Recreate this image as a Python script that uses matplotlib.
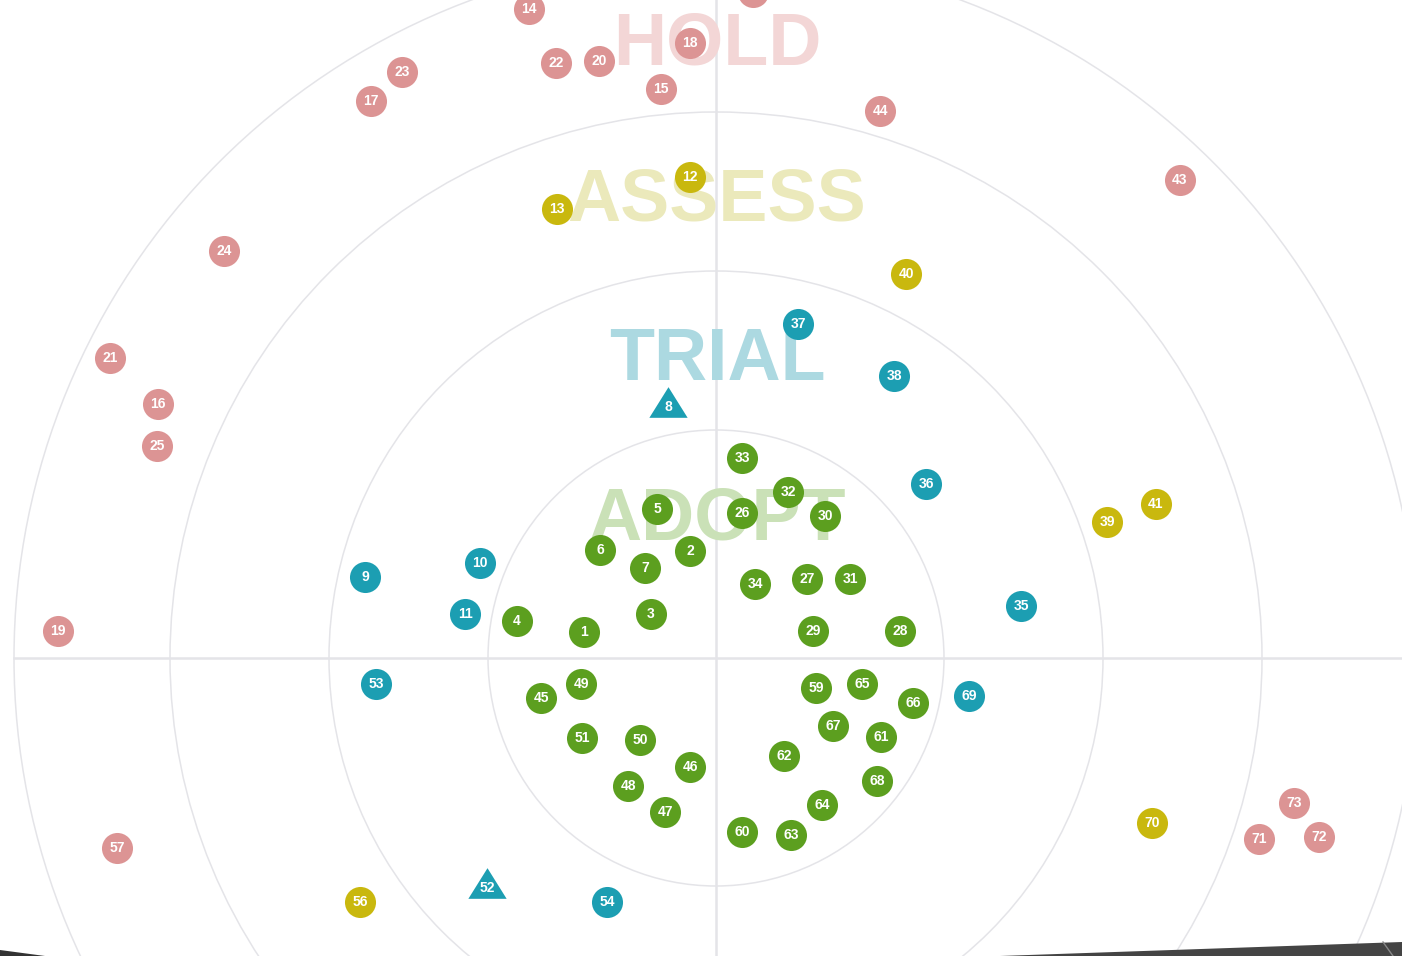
import matplotlib
matplotlib.use("Agg")
import matplotlib.pyplot as plt
from matplotlib.patches import Circle, Polygon

plt.rcParams['font.family'] = ['Liberation Sans', 'DejaVu Sans']

# Ring radii (radar units) and ring names
ring_names = ["ADOPT", "TRIAL", "ASSESS", "HOLD"]
ring_radii = [228, 387, 546, 702]

# Blips: label, x, y (radar units, centre = 0,0, y up)
hold_labels = ["14", "18", "22", "20", "15", "42", "23", "17", "44", "43", "24",
               "21", "16", "25", "19", "57", "73", "71", "72"]
hold_x = [-187, -26, -160, -117, -55, 37, -314, -345, 164, 464, -492,
          -606, -558, -559, -658, -599, 578, 543, 603]
hold_y = [649, 615, 595, 597, 569, 666, 586, 557, 547, 478, 407,
          300, 254, 212, 27, -190, -145, -181, -179]

assess_labels = ["12", "13", "40", "39", "41", "56", "70"]
assess_x = [-26, -159, 190, 391, 440, -356, 436]
assess_y = [481, 449, 384, 136, 154, -244, -165]

trial_labels = ["37", "38", "36", "9", "10", "11", "35", "53", "69", "54"]
trial_x = [82, 178, 210, -351, -236, -251, 305, -340, 253, -109]
trial_y = [334, 282, 174, 81, 95, 44, 52, -26, -38, -244]

trial_new_labels = ["8", "52"]
trial_new_x = [-48, -229]
trial_new_y = [256, -225]

adopt_labels = ["33", "32", "5", "26", "30", "6", "2", "7", "34", "27", "31",
                "3", "4", "1", "29", "28", "45", "49", "51", "50", "46", "48",
                "47", "59", "65", "66", "67", "61", "62", "68", "64", "60", "63"]
adopt_x = [26, 72, -59, 26, 109, -116, -26, -71, 39, 91, 134,
           -65, -199, -132, 97, 184, -175, -135, -134, -76, -26, -88,
           -51, 100, 146, 197, 117, 165, 68, 161, 106, 26, 75]
adopt_y = [200, 166, 149, 145, 142, 108, 107, 90, 74, 79, 79,
           44, 37, 26, 27, 27, -40, -26, -80, -82, -109, -128,
           -154, -30, -26, -45, -68, -79, -98, -123, -147, -174, -177]

ring_colors = {"HOLD": "#dc9494", "ASSESS": "#c9b80e",
               "TRIAL": "#1c9eb2", "ADOPT": "#5c9f1f"}
title_colors = {"HOLD": "#f3d6d6", "ASSESS": "#ebe9bb",
                "TRIAL": "#acd9e1", "ADOPT": "#cae1b7"}
title_pos = {"HOLD": (1, 594), "ASSESS": (1, 437), "TRIAL": (1, 278), "ADOPT": (1, 119)}

W, H = 1402, 956
fig = plt.figure(figsize=(W / 100, H / 100), dpi=100)
ax = fig.add_axes([0, 0, 1, 1])
ax.set_xlim(-716, W - 716)
ax.set_ylim(658 - H, 658)
ax.set_aspect('equal')
ax.axis('off')

grid = "#e4e4e8"
for r in ring_radii:
    ax.add_patch(Circle((0, 0), r, fill=False, ec=grid, lw=1.1, zorder=1))
ax.plot([-ring_radii[-1], ring_radii[-1]], [0, 0], color=grid, lw=1.8, zorder=1)
ax.plot([0, 0], [-ring_radii[-1], ring_radii[-1]], color=grid, lw=1.8, zorder=1)

for name in ring_names:
    x, y = title_pos[name]
    ax.text(x, y, name, fontsize=53, fontweight='bold', color=title_colors[name],
            ha='center', va='baseline', zorder=2)

def circles(labels, xs, ys, color):
    ax.scatter(xs, ys, s=500, c=color, marker='o', linewidths=0, zorder=3)
    for lab, x, y in zip(labels, xs, ys):
        ax.text(x, y, lab, fontsize=10, fontweight='bold', color='white',
                ha='center', va='center', zorder=4)

circles(hold_labels, hold_x, hold_y, ring_colors["HOLD"])
circles(assess_labels, assess_x, assess_y, ring_colors["ASSESS"])
circles(trial_labels, trial_x, trial_y, ring_colors["TRIAL"])
circles(adopt_labels, adopt_x, adopt_y, ring_colors["ADOPT"])

tri = [(0, 0.8), (-1, -0.8), (1, -0.8)]
ax.scatter(trial_new_x, trial_new_y, s=760, c=ring_colors["TRIAL"], marker=tri,
           linewidths=0, zorder=3)
for lab, x, y in zip(trial_new_labels, trial_new_x, trial_new_y):
    ax.text(x, y - 5, lab, fontsize=10, fontweight='bold', color='white',
            ha='center', va='center', zorder=4)

# page-curl shadow at the bottom edge
ax.add_patch(Polygon([(1000 / W, 0), (1 / 1, 14 / H), (1, 0)], closed=True,
                     transform=ax.transAxes, fc="#444444", ec='none', zorder=5))
ax.add_patch(Polygon([(0, 0), (0, 6 / H), (45 / W, 0)], closed=True,
                     transform=ax.transAxes, fc="#333333", ec='none', zorder=5))
ax.plot([1383 / W, 1393 / W], [14 / H, 0], transform=ax.transAxes,
        color="#888888", lw=1, zorder=6)

fig.savefig("out.png", dpi=100)
